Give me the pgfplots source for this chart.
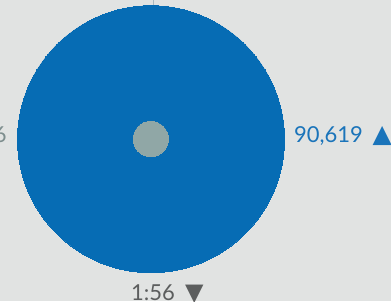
\documentclass[border=0pt]{standalone}
\usepackage{pgfplots}
\pgfplotsset{compat=1.18}
\usepackage{fontspec}
\setmainfont{Lato}
\newfontfamily\symfont{DejaVu Sans}
\definecolor{bgcol}{HTML}{E1E3E2}
\definecolor{cblue}{HTML}{066CB4}
\definecolor{tblue}{HTML}{1A74BA}
\definecolor{hub}{HTML}{90A7A6}
\definecolor{tgray}{HTML}{5C5E5E}
\definecolor{lgray}{HTML}{7E8E8E}
\definecolor{linecol}{HTML}{A9B9C1}
\begin{document}
\begin{tikzpicture}
\path[use as bounding box] (0,0) rectangle (391pt,301pt);
\clip (0,0) rectangle (391pt,301pt);
\fill[bgcol] (0,0) rectangle (391pt,301pt);
\begin{axis}[
  at={(0,0)}, anchor=origin,
  width=391pt, height=301pt, scale only axis,
  xmin=0, xmax=391, ymin=0, ymax=301,
  hide axis, clip=false,
]
% connector at top
\addplot[draw=linecol, line width=1.6pt] coordinates {(153.6,301) (153.6,295)};
% single slice (100%) of value 90,619
\addplot[only marks, draw=cblue, fill=cblue, mark=*, mark size=133.5pt, mark options={fill=cblue, draw=cblue, line width=0pt}] coordinates {(151,161.8)};
% hub
\addplot[only marks, draw=hub, fill=hub, mark=*, mark size=17.6pt, mark options={fill=hub, draw=hub, line width=0pt}] coordinates {(150.8,162)};
\node[anchor=base west, text=tblue, inner sep=0pt, font=\fontsize{22}{26}\selectfont] at (axis cs:294,158.3) {90,619};
\node[anchor=base west, text=tblue, inner sep=0pt, font=\symfont\fontsize{25}{29}\selectfont] at (axis cs:372.5,158.3) {▲};
\node[anchor=base west, text=tgray, inner sep=0pt, font=\fontsize{22}{26}\selectfont] at (axis cs:131,0.5) {1:56};
\node[anchor=base west, text=tgray, inner sep=0pt, font=\symfont\fontsize{24}{28}\selectfont] at (axis cs:185,0.5) {▼};
\node[anchor=base east, text=lgray, inner sep=0pt, font=\fontsize{22}{26}\selectfont] at (axis cs:6.8,158.3) {6};
\end{axis}
\end{tikzpicture}
\end{document}
